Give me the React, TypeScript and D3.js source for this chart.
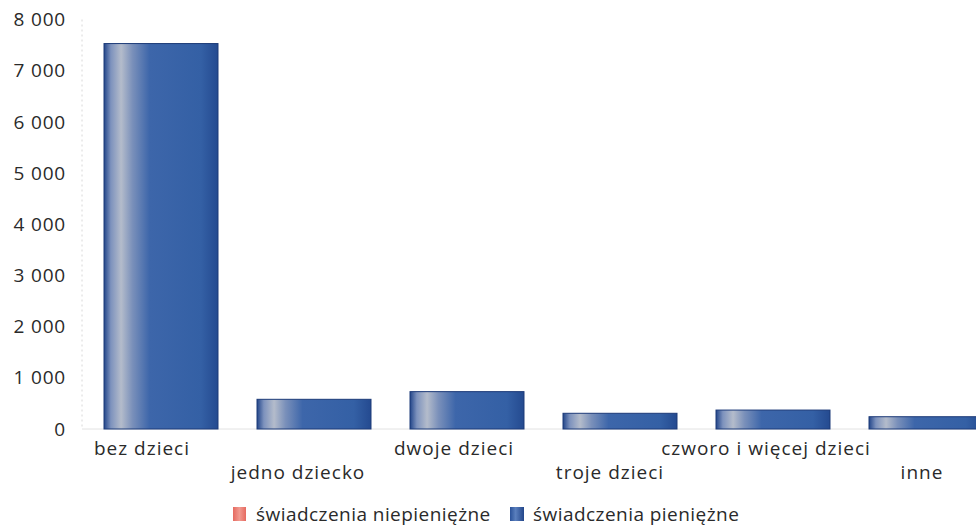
import React from "react";
import * as d3 from "d3";

const categories = ["bez dzieci", "jedno dziecko", "dwoje dzieci", "troje dzieci", "czworo i więcej dzieci", "inne"];
const cashValues = [7530, 580, 730, 307, 370, 240];
const nonCashValues = [0, 0, 0, 0, 0, 0];
const yTicks = [0, 1000, 2000, 3000, 4000, 5000, 6000, 7000, 8000];
const seriesNames = ["świadczenia niepieniężne", "świadczenia pieniężne"];

const W = 976;
const H = 529;
const FONT = "'Open Sans', 'Noto Sans', sans-serif";
const TEXT = "#2a2a2a";

export default function App() {
  const y = d3.scaleLinear().domain([0, 8000]).range([429, 19.5]);
  const x = d3
    .scaleBand<string>()
    .domain(categories)
    .range([84.5, 1002.5])
    .paddingInner(0.255)
    .paddingOuter(0.1275);
  const xl = d3.scaleBand<string>().domain(categories).range([64, 1000]);
  const fmt = (v: number) => d3.format(",")(v).replace(/,/g, "\u00a0");

  const stacked = categories.map((c, i) => ({
    c,
    cash: cashValues[i],
    non: nonCashValues[i],
  }));

  return (
    <svg
      width={W}
      height={H}
      style={{ position: "absolute", left: 0, top: 0, background: "#fff" }}
      fontFamily={FONT}
    >
      <defs>
        <linearGradient id="blueGrad" x1="0" x2="1" y1="0" y2="0">
          <stop offset="0%" stopColor="#23468a" />
          <stop offset="6%" stopColor="#7d92bd" />
          <stop offset="15%" stopColor="#b4bccb" />
          <stop offset="25%" stopColor="#7a90ba" />
          <stop offset="40%" stopColor="#3d66aa" />
          <stop offset="85%" stopColor="#3460a5" />
          <stop offset="100%" stopColor="#244a90" />
        </linearGradient>
        <linearGradient id="redGrad" x1="0" x2="1" y1="0" y2="0">
          <stop offset="0%" stopColor="#e66a60" />
          <stop offset="50%" stopColor="#f19a90" />
          <stop offset="100%" stopColor="#e66a60" />
        </linearGradient>
        <linearGradient id="blueLeg" x1="0" x2="1" y1="0" y2="0">
          <stop offset="0%" stopColor="#2a5299" />
          <stop offset="40%" stopColor="#5a7fbd" />
          <stop offset="100%" stopColor="#23468a" />
        </linearGradient>
      </defs>

      {/* y axis dotted line */}
      <line
        x1={82}
        x2={82}
        y1={y(8000)}
        y2={y(0)}
        stroke="#d8d8d8"
        strokeWidth={1}
        strokeDasharray="2,3"
      />
      {/* baseline */}
      <line x1={82} x2={W} y1={y(0)} y2={y(0)} stroke="#e2e2e2" strokeWidth={1} />

      {/* tick labels */}
      {yTicks.map((t) => (
        <text
          key={t}
          x={66}
          y={y(t)}
          dy="0.35em"
          textAnchor="end"
          fontSize={19}
          letterSpacing={0.8}
          fill={TEXT}
        >
          {fmt(t)}
        </text>
      ))}

      {/* bars */}
      {stacked.map((d) => (
        <g key={d.c}>
          <rect
            x={x(d.c)}
            width={x.bandwidth()}
            y={y(d.cash)}
            height={y(0) - y(d.cash)}
            fill="url(#blueGrad)"
            stroke="#1c3a78"
            strokeWidth={1}
          />
          {d.non > 0 && (
            <rect
              x={x(d.c)}
              width={x.bandwidth()}
              y={y(d.cash + d.non)}
              height={y(d.cash) - y(d.cash + d.non)}
              fill="url(#redGrad)"
            />
          )}
        </g>
      ))}

      {/* category labels */}
      {categories.map((c, i) => (
        <text
          key={c}
          x={(xl(c) as number) + xl.bandwidth() / 2}
          y={i % 2 === 0 ? 455 : 479}
          textAnchor="middle"
          fontSize={19}
          letterSpacing={1}
          fill={TEXT}
        >
          {c}
        </text>
      ))}

      {/* legend */}
      <g>
        <rect x={233} y={507} width={13} height={14} fill="url(#redGrad)" />
        <text x={256} y={521} fontSize={19} letterSpacing={0.45} fill={TEXT}>
          {seriesNames[0]}
        </text>
        <rect x={510} y={507} width={14} height={14} fill="url(#blueLeg)" />
        <text x={533} y={521} fontSize={19} letterSpacing={0.45} fill={TEXT}>
          {seriesNames[1]}
        </text>
      </g>
    </svg>
  );
}
